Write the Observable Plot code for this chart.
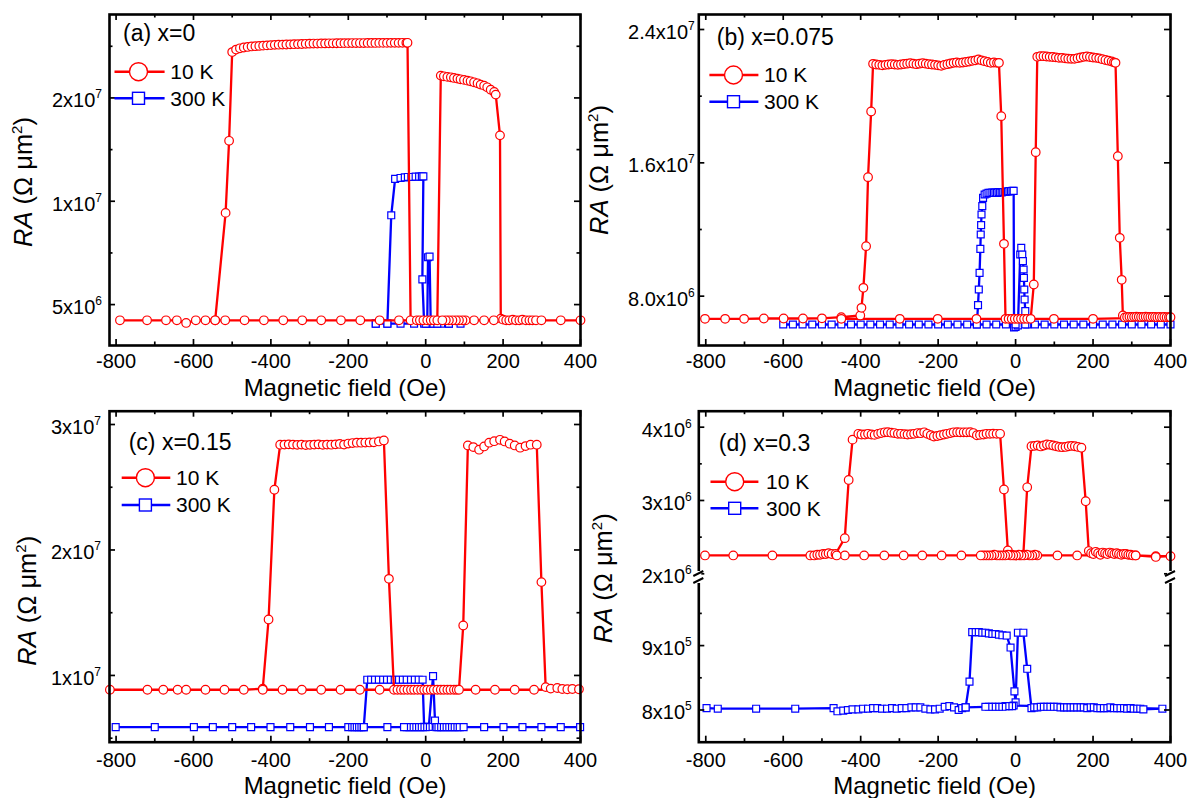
<!DOCTYPE html>
<html><head><meta charset="utf-8">
<script src="https://cdn.jsdelivr.net/npm/d3@7"></script>
<script src="https://cdn.jsdelivr.net/npm/@observablehq/plot@0.6"></script>
<style>
html,body{margin:0;padding:0;background:#fff;}
#wrap{position:relative;width:1190px;height:798px;overflow:hidden;background:#fff;}
#wrap svg{position:absolute;overflow:visible;}
</style></head><body><div id="wrap"></div>
<script>
const FONT = '"Liberation Sans", Arial, Helvetica, sans-serif';
const RED = "#ff0000", BLUE = "#0000ff";

// ---- shared x ticks (Oe) ----
const xMajorTicks = [-800, -600, -400, -200, 0, 200, 400];
const xMinorTicks = [-700, -500, -300, -100, 100, 300];
const xTitle = "Magnetic field (Oe)";
const legendLabels = ["10 K", "300 K"];

// ---- panel (a) x=0 : RA in units of 1e6 Ω·µm² ----
const fieldA10K = [-790, -720, -671, -643, -619, -594, -569, -544, -517, -508, -500,
  -490, -480, -470, -460, -450, -440, -430, -420, -410, -400, -390, -380, -370, -360, -350, -340, -330, -320, -310, -300,
  -290, -280, -270, -260, -250, -240, -230, -220, -210, -200, -190, -180, -170, -160, -150, -140, -130, -120, -110, -100,
  -90, -80, -70, -60, -50, -47,
  -39, -23, -15, -6, 4, 13, 21, 30,
  39, 47, 56, 65, 73, 82, 90, 99, 108, 116, 125, 134, 142, 151, 159, 168, 177, 181,
  192, 194,
  200, 208, 216, 225, 233, 242, 250, 259, 268, 276, 285, 299, 349, 400,
  176, 151, 125, 103, 95, 86, 78, 69, 60, 52, 43, -69, -119, -169, -219, -270, -319, -368, -418, -468, -518, -544];
const raA10K = [4.5, 4.5, 4.5, 4.5, 4.42, 4.5, 4.5, 4.5, 9.25, 15.0, 27.2,
  27.66, 27.9, 28.05, 28.15, 28.25, 28.3, 28.35, 28.4, 28.45, 28.5, 28.55, 28.58, 28.6, 28.62, 28.65, 28.68, 28.7, 28.72, 28.75, 28.78,
  28.8, 28.8, 28.82, 28.83, 28.85, 28.85, 28.86, 28.87, 28.88, 28.88, 28.9, 28.9, 28.9, 28.9, 28.92, 28.92, 28.92, 28.93, 28.93, 28.93,
  28.94, 28.94, 28.94, 28.95, 28.95, 28.95,
  4.5, 4.5, 4.5, 4.5, 4.5, 4.5, 4.5, 4.5,
  23.23, 23.12, 23.03, 22.97, 22.87, 22.77, 22.66, 22.57, 22.46, 22.36, 22.21, 22.06, 21.87, 21.72, 21.48, 21.14, 20.82, 20.45,
  15.56, 4.55,
  4.52, 4.5, 4.5, 4.52, 4.5, 4.5, 4.52, 4.5, 4.5, 4.5, 4.5, 4.5, 4.5, 4.5,
  4.5, 4.5, 4.5, 4.5, 4.5, 4.5, 4.5, 4.5, 4.5, 4.5, 4.5, 4.5, 4.5, 4.5, 4.5, 4.5, 4.5, 4.5, 4.5, 4.5, 4.5, 4.5];
const fieldA300K = [-129, -99, -89, -79, -65, -54, -46, -37, -26, -17, -10, -6, -8.6, -4, 4, 6, 10, 13, 20, 40, 60, 90, 60, 30, 0, -30, -65, -99, -129];
const raA300K = [4.4, 4.4, 9.1, 11.62, 11.69, 11.74, 11.77, 11.77, 11.8, 11.8, 11.82, 11.82, 5.92, 4.4, 4.4, 6.87, 6.9, 4.4, 4.4, 4.4, 4.4, 4.4, 4.4, 4.4, 4.4, 4.4, 4.4, 4.4, 4.4];
const yMajorA = [5, 10, 20];
const yLabelsA = ["5x10^6", "1x10^7", "2x10^7"];
const yMinorA = [7.07, 14.14, 28.28];

// ---- panel (b) x=0.075 ----
const fieldB10K = [-802, -750, -701, -650, -599, -549, -500, -450, -401, -398, -393, -386, -381, -373, -368,
  -360, -352, -344, -336, -328, -320, -312, -304, -296, -288, -280, -272, -264, -256, -248, -240, -232, -224, -216, -208,
  -200, -192, -184, -176, -168, -160, -152, -144, -136, -128, -120, -112, -104, -96, -88, -80, -72, -64, -56, -48, -43,
  -37, -30, -26, -18, -10, -2, 6, 14, 22, 30, 39, 47, 52, 56,
  64, 72, 80, 88, 96, 104, 112, 120, 128, 136, 144, 152, 160, 168, 176, 184, 192, 200, 208, 216, 224, 232, 240, 248, 254, 258,
  264, 269, 274, 277,
  282, 288, 294, 300, 306, 312, 318, 324, 330, 336, 342, 348, 354, 360, 366, 372, 378, 384, 390, 396, 400,
  200, 99, -101, -201, -299, -450];
const raB10K = [6.64, 6.64, 6.64, 6.66, 6.66, 6.66, 6.67, 6.74, 6.84, 7.3, 8.5, 11.0, 15.14, 19.08, 21.94,
  21.9, 21.88, 21.85, 21.88, 21.9, 21.92, 21.9, 21.88, 21.9, 21.93, 21.95, 21.98, 21.95, 21.92, 21.95, 21.98, 21.95, 21.92, 21.9, 21.88,
  21.85, 21.82, 21.88, 21.92, 21.96, 22.0, 22.02, 22.0, 22.02, 22.05, 22.08, 22.12, 22.15, 22.2, 22.15, 22.1, 22.05, 22.0, 22.02, 22.0, 22.0,
  18.8, 11.14, 6.64, 6.64, 6.64, 6.64, 6.64, 6.64, 6.64, 6.64, 6.64, 8.7, 16.64, 22.36,
  22.4, 22.4, 22.38, 22.36, 22.35, 22.33, 22.3, 22.3, 22.27, 22.25, 22.24, 22.24, 22.28, 22.32, 22.36, 22.38, 22.35, 22.32, 22.3, 22.27, 22.22, 22.17, 22.13, 22.08, 22.03, 22.0,
  16.4, 11.5, 8.98, 6.84,
  6.72, 6.75, 6.76, 6.75, 6.76, 6.77, 6.76, 6.75, 6.76, 6.77, 6.76, 6.75, 6.76, 6.75, 6.74, 6.75, 6.74, 6.75, 6.74, 6.74, 6.74,
  6.64, 6.64, 6.64, 6.64, 6.64, 6.64];
const fieldB300K = [-600, -575, -550, -525, -500, -475, -450, -425, -400, -375, -350, -325, -300, -275, -250, -225, -200, -175, -150, -125, -100,
  -97, -95, -93, -91, -90, -89, -88, -86, -84,
  -80, -75, -70, -65, -60, -56, -52, -48, -44, -40, -36, -32, -28, -24, -20, -16, -12, -8, -5,
  -4, 0, 6,
  12, 14.6, 17.2, 18.9, 20.7, 21.5, 22.4, 23.3, 25, 26.7, 30.2,
  50, 75, 100, 125, 150, 175, 200, 225, 250, 275, 300, 325, 350, 375, 400,
  25, 0, -25, -50, -75, -100];
const raB300K = [6.3, 6.3, 6.3, 6.3, 6.3, 6.3, 6.3, 6.3, 6.3, 6.3, 6.3, 6.3, 6.3, 6.3, 6.3, 6.3, 6.3, 6.3, 6.3, 6.3, 6.3,
  7.46, 8.4, 9.4, 10.84, 11.7, 12.26, 12.9, 13.4, 13.9,
  14.1, 14.15, 14.2, 14.2, 14.22, 14.2, 14.22, 14.2, 14.25, 14.22, 14.22, 14.25, 14.25, 14.27, 14.28, 14.3, 14.3, 14.32, 14.32,
  6.12, 6.15, 6.25,
  10.5, 10.9, 10.5, 10.1, 9.6, 9.1, 8.4, 7.8, 7.1, 6.6, 6.3,
  6.3, 6.3, 6.3, 6.3, 6.3, 6.3, 6.3, 6.3, 6.3, 6.3, 6.3, 6.3, 6.3, 6.3, 6.3,
  6.3, 6.3, 6.3, 6.3, 6.3, 6.3];
const yMajorB = [8, 16, 24];
const yLabelsB = ["8.0x10^6", "1.6x10^7", "2.4x10^7"];
const yMinorB = [12, 20];

// ---- panel (c) x=0.15 ----
const fieldC10K = [-816, -719, -678, -641, -619, -569, -520, -470, -421, -406, -391, -376,
  -365, -354, -343, -332, -321, -310, -299, -288, -277, -266, -255, -244, -233, -222, -211, -200, -189, -178, -167, -156, -145, -134, -121, -108,
  -95, -82,
  -73, -64, -56, -47, -38, -30, -21, -12, -4, 4, 13, 21, 30, 39, 47, 56, 64, 73, 80, 86,
  97, 109, 123, 138, 151, 164, 177, 192, 204, 217, 230, 244, 258, 271, 287,
  299, 310, 323, 340, 353, 366, 379, 396,
  280, 230, 179, 129, -119, -170, -220, -270, -320, -370, -421];
const raC10K = [8.86, 8.86, 8.86, 8.86, 8.86, 8.86, 8.86, 8.86, 8.94, 14.46, 24.8, 28.39,
  28.4, 28.42, 28.4, 28.38, 28.4, 28.36, 28.38, 28.4, 28.42, 28.38, 28.4, 28.39, 28.42, 28.45, 28.4, 28.48, 28.52, 28.55, 28.55, 28.56, 28.57, 28.58, 28.65, 28.73,
  17.7, 8.86,
  8.86, 8.86, 8.86, 8.86, 8.86, 8.86, 8.86, 8.86, 8.86, 8.86, 8.86, 8.86, 8.86, 8.86, 8.86, 8.86, 8.86, 8.86, 8.86, 8.86,
  13.98, 28.33, 28.2, 27.99, 28.25, 28.55, 28.67, 28.78, 28.65, 28.47, 28.33, 28.15, 28.28, 28.39, 28.39,
  17.44, 9.07, 8.95, 9.0, 8.92, 8.9, 8.92, 8.9,
  8.86, 8.86, 8.86, 8.86, 8.86, 8.86, 8.86, 8.86, 8.86, 8.86, 8.86];
const fieldC300K = [-801, -700, -599, -550, -500, -451, -401, -350, -299, -250, -200, -190, -184, -178, -172, -166, -160,
  -151, -141, -131, -121, -110, -100, -90, -80, -69, -59, -49, -38, -28, -18, -8,
  -4, 8, 19, 24, 28,
  33, 40, 47, 54, 61, 68, 75, 82, 88, 98, 151, 201, 250, 299, 349, 399,
  0, -7, -14, -21, -28, -35, -42, -49, -56, -99, -160];
const raC300K = [5.88, 5.88, 5.88, 5.88, 5.88, 5.88, 5.88, 5.88, 5.88, 5.88, 5.88, 5.88, 5.88, 5.88, 5.88, 5.88, 5.88,
  9.66, 9.66, 9.66, 9.66, 9.66, 9.66, 9.66, 9.66, 9.66, 9.66, 9.66, 9.66, 9.66, 9.66, 9.66,
  5.9, 5.9, 9.95, 6.41, 5.88,
  5.88, 5.88, 5.88, 5.88, 5.88, 5.88, 5.88, 5.88, 5.88, 5.88, 5.88, 5.88, 5.88, 5.88, 5.88, 5.88,
  5.88, 5.88, 5.88, 5.88, 5.88, 5.88, 5.88, 5.88, 5.88, 5.88, 5.88];
const yMajorC = [10, 20, 30];
const yLabelsC = ["1x10^7", "2x10^7", "3x10^7"];
const yMinorC = [5, 15, 25];

// ---- panel (d) x=0.3 (broken axis) ----
const fieldD10K = [-802, -729, -628, -530, -520, -512, -505, -497, -490, -483, -475, -465, -441, -431, -421, -406,
  -398, -389, -381, -372, -364, -355, -347, -338, -330, -321, -313, -304, -296, -287, -279, -270, -262, -253, -245, -236,
  -228, -219, -211, -202, -194, -185, -177, -168, -160, -151, -143, -134, -126, -117, -109, -100, -92, -83, -75, -66, -58, -49, -40,
  -30, -20, -10, 0, 10, 20, 30, 41,
  49, 57, 65, 73, 81, 89, 97, 105, 113, 121, 129, 137, 145, 153, 161, 170,
  181, 189, 195, 201, 207, 213, 219, 225, 231, 237, 243, 249, 255, 261, 267, 273, 279, 285, 291, 297, 303, 310, 362, 400,
  362, 310, 159, 108, 56, 50, 43, 36, 29, 22, 15, 8, 1, -6, -13, -20, -27, -34, -41, -48, -55, -62, -69, -76, -83, -90,
  -140, -191, -241, -289, -339, -391, -441, -462];
const raD10K = [2.25, 2.25, 2.25, 2.25, 2.25, 2.26, 2.26, 2.27, 2.27, 2.28, 2.27, 2.27, 2.486, 3.28, 3.83, 3.91,
  3.90, 3.90, 3.91, 3.90, 3.895, 3.91, 3.92, 3.93, 3.932, 3.925, 3.92, 3.91, 3.91, 3.905, 3.90, 3.905, 3.91, 3.92, 3.918, 3.93,
  3.91, 3.89, 3.873, 3.88, 3.89, 3.90, 3.91, 3.92, 3.93, 3.932, 3.93, 3.93, 3.93, 3.932, 3.92, 3.89, 3.895, 3.90, 3.91, 3.91, 3.912, 3.91, 3.91,
  3.15, 2.32, 2.26, 2.25, 2.25, 2.26, 3.18, 3.74,
  3.745, 3.75, 3.737, 3.75, 3.764, 3.76, 3.75, 3.74, 3.73, 3.727, 3.73, 3.74, 3.745, 3.74, 3.73, 3.72,
  2.99, 2.31, 2.28, 2.27, 2.3, 2.28, 2.26, 2.29, 2.28, 2.27, 2.29, 2.28, 2.27, 2.28, 2.27, 2.26, 2.27, 2.27, 2.26, 2.26, 2.25, 2.25, 2.24, 2.24,
  2.23, 2.25, 2.25, 2.25, 2.25, 2.26, 2.25, 2.25, 2.26, 2.25, 2.25, 2.26, 2.25, 2.25, 2.25, 2.26, 2.25, 2.25, 2.25, 2.25, 2.26, 2.25, 2.25, 2.25, 2.25, 2.25,
  2.25, 2.25, 2.25, 2.25, 2.25, 2.25, 2.25, 2.25];
const fieldD300K = [-798, -769, -670, -569, -470, -460, -445, -433, -421, -406, -394, -381, -368, -357, -345, -332, -319, -307, -294, -282,
  -269, -258, -246, -233, -220, -208, -196, -183, -171, -159, -147, -138, -129,
  -119, -112, -103, -95, -86, -78, -69, -60, -52, -43, -34, -23, -13, -3, 0, 6, 20, 30, 41,
  48, 56, 65, 73, 82, 90, 99, 108, 116, 125, 133, 142, 150, 159, 168, 176, 185, 194, 202, 211, 219, 228, 237, 245, 254, 262, 271, 280,
  288, 297, 305, 314, 322, 330, 379,
  -5, -9, -17, -26, -34, -43, -52, -60, -69, -78, -129];
const raD300K = [0.803, 0.802, 0.802, 0.802, 0.803, 0.798, 0.799, 0.8, 0.801, 0.801, 0.802, 0.802, 0.803, 0.803, 0.802, 0.802, 0.803, 0.802, 0.803, 0.803,
  0.804, 0.804, 0.804, 0.802, 0.801, 0.801, 0.802, 0.805, 0.806, 0.804, 0.8, 0.803, 0.804,
  0.844, 0.921, 0.921, 0.921, 0.92, 0.92, 0.919, 0.918, 0.918, 0.917, 0.916, 0.9156, 0.897, 0.829, 0.812, 0.92, 0.92, 0.864, 0.803,
  0.804, 0.804, 0.805, 0.805, 0.805, 0.805, 0.805, 0.805, 0.804, 0.804, 0.804, 0.804, 0.804, 0.804, 0.804, 0.804, 0.803, 0.804, 0.804, 0.803, 0.803, 0.803, 0.803, 0.804, 0.803, 0.803, 0.803, 0.803,
  0.802, 0.803, 0.802, 0.802, 0.802, 0.801, 0.802,
  0.807, 0.806, 0.806, 0.806, 0.805, 0.805, 0.805, 0.805, 0.805, 0.805, 0.804];
const yMajorD = [0.8, 0.9, 2, 3, 4];
const yLabelsD = ["8x10^5", "9x10^5", "2x10^6", "3x10^6", "4x10^6"];
const yMinorD = [0.85, 0.95, 2.5, 3.5];

// ---------------------------------------------------------------
function rows(hs, ras) { return hs.map((h, i) => ({h, ra: ras[i]})); }

function supify(svg) {
  d3.select(svg).selectAll("text").each(function () {
    const t = this.textContent;
    const k = t.indexOf("^");
    if (k < 0) return;
    const sel = d3.select(this);
    sel.text(t.slice(0, k));
    sel.append("tspan").attr("dy", -9).attr("font-size", 12).text(t.slice(k + 1));
  });
}

function build(cfg) {
  const fw = cfg.width - cfg.ml - cfg.mr;
  const fh = cfg.height - cfg.mt - cfg.mb;
  const red = rows(cfg.redH, cfg.redRA);
  const blue = rows(cfg.blueH, cfg.blueRA);
  const labelMap = new Map(cfg.yMajor.map((v, i) => [v, cfg.yLabels[i]]));
  const tickStyle = {stroke: "black", strokeWidth: 1.7};
  const svg = Plot.plot({
    width: cfg.width, height: cfg.height,
    marginLeft: cfg.ml, marginRight: cfg.mr, marginTop: cfg.mt, marginBottom: cfg.mb,
    style: {fontFamily: FONT, fontSize: "20px", color: "#000", background: "transparent", overflow: "visible"},
    x: {domain: cfg.xDomain},
    y: cfg.y,
    marks: [
      Plot.line(blue, {x: "h", y: "ra", stroke: BLUE, strokeWidth: 2.3}),
      Plot.dot(blue, {x: "h", y: "ra", symbol: "square", r: 3.9, stroke: BLUE, strokeWidth: 1.2, fill: "white"}),
      Plot.line(red, {x: "h", y: "ra", stroke: RED, strokeWidth: 2.3}),
      Plot.dot(red, {x: "h", y: "ra", symbol: "circle", r: 4.3, stroke: RED, strokeWidth: 1.2, fill: "white"}),
      // inward tick marks on all four sides
      Plot.ruleX(xMajorTicks, {x: d => d, insetTop: fh - 6, ...tickStyle}),
      Plot.ruleX(xMajorTicks, {x: d => d, insetBottom: fh - 6, ...tickStyle}),
      Plot.ruleX(xMinorTicks, {x: d => d, insetTop: fh - 3.5, ...tickStyle}),
      Plot.ruleX(xMinorTicks, {x: d => d, insetBottom: fh - 3.5, ...tickStyle}),
      Plot.ruleY(cfg.yMajor, {y: d => d, insetRight: fw - 6, ...tickStyle}),
      Plot.ruleY(cfg.yMajor, {y: d => d, insetLeft: fw - 6, ...tickStyle}),
      Plot.ruleY(cfg.yMinor, {y: d => d, insetRight: fw - 3.5, ...tickStyle}),
      Plot.ruleY(cfg.yMinor, {y: d => d, insetLeft: fw - 3.5, ...tickStyle}),
      Plot.frame({stroke: "black", strokeWidth: 2.6}),
      Plot.axisX({anchor: "bottom", ticks: xMajorTicks, tickSize: 0, tickPadding: cfg.xPad, tickFormat: d => String(d), label: null}),
      Plot.axisY({anchor: "left", ticks: cfg.yMajor, tickSize: 0, tickPadding: cfg.yPad, tickFormat: d => labelMap.get(d), dy: 3, label: null}),
      Plot.text([xTitle], {text: d => d, frameAnchor: "bottom", dy: cfg.xtDy, lineAnchor: "bottom", fontSize: 24}),
      Plot.text([cfg.panelLabel], {text: d => d, frameAnchor: "top-left", dx: cfg.plDx, dy: cfg.plDy, textAnchor: "start", lineAnchor: "middle", fontSize: 23})
    ]
  });
  svg.style.left = cfg.left + "px";
  svg.style.top = cfg.top + "px";
  supify(svg);
  const g = d3.select(svg).append("g").attr("font-family", FONT);
  // y-axis title
  const t = g.append("text")
    .attr("transform", `translate(${cfg.ytX},${cfg.ytY}) rotate(-90)`)
    .attr("text-anchor", "middle").attr("font-size", 25.5).attr("fill", "black");
  t.append("tspan").attr("font-style", "italic").text("RA");
  t.append("tspan").text(" (\u03A9 \u03BCm");
  t.append("tspan").attr("dy", -10).attr("font-size", 15).text("2");
  t.append("tspan").attr("dy", 10).text(")");
  // legend
  const L = cfg.legend;
  g.append("line").attr("x1", L.x1).attr("x2", L.x2).attr("y1", L.y1).attr("y2", L.y1).attr("stroke", RED).attr("stroke-width", 2.5);
  g.append("circle").attr("cx", L.cx).attr("cy", L.y1).attr("r", 9).attr("fill", "white").attr("stroke", RED).attr("stroke-width", 1.4);
  g.append("line").attr("x1", L.x1).attr("x2", L.x2).attr("y1", L.y2).attr("y2", L.y2).attr("stroke", BLUE).attr("stroke-width", 2.5);
  g.append("rect").attr("x", L.cx - 6).attr("y", L.y2 - 6).attr("width", 12).attr("height", 12).attr("fill", "white").attr("stroke", BLUE).attr("stroke-width", 1.4);
  g.append("text").attr("x", L.tx).attr("y", L.y1).attr("dy", "0.35em").attr("text-anchor", "start").attr("font-size", 21).attr("fill", "black").text(legendLabels[0]);
  g.append("text").attr("x", L.tx).attr("y", L.y2).attr("dy", "0.35em").attr("text-anchor", "start").attr("font-size", 21).attr("fill", "black").text(legendLabels[1]);
  // axis break
  if (cfg.brk) {
    for (const xb of [cfg.ml, cfg.width - cfg.mr]) {
      g.append("rect").attr("x", xb - 3).attr("y", cfg.brk[0]).attr("width", 6).attr("height", cfg.brk[1] - cfg.brk[0]).attr("fill", "white");
      g.append("line").attr("x1", xb - 5).attr("x2", xb + 5).attr("y1", cfg.brk[0] + 5).attr("y2", cfg.brk[0]).attr("stroke", "black").attr("stroke-width", 2);
      g.append("line").attr("x1", xb - 5).attr("x2", xb + 5).attr("y1", cfg.brk[1]).attr("y2", cfg.brk[1] - 5).attr("stroke", "black").attr("stroke-width", 2);
    }
  }
  document.getElementById("wrap").appendChild(svg);
}

build({left: 0, top: 0, width: 595, height: 399, ml: 109, mr: 15, mt: 14, mb: 54,
  xDomain: [-817, 400], y: {type: "log", domain: [3.8, 35]},
  redH: fieldA10K, redRA: raA10K, blueH: fieldA300K, blueRA: raA300K,
  yMajor: yMajorA, yLabels: yLabelsA, yMinor: yMinorA,
  xPad: 8, yPad: 7.5, xtDy: 50, panelLabel: "(a) x=0", plDx: 13.5, plDy: 19.3,
  ytX: 31.5, ytY: 182,
  legend: {x1: 114.5, x2: 164.6, cx: 138.5, tx: 170.3, y1: 71.7, y2: 98.3}});

build({left: 580, top: 0, width: 610, height: 399, ml: 118.3, mr: 20, mt: 14, mb: 54,
  xDomain: [-818, 400], y: {type: "linear", domain: [5.04, 24.9]},
  redH: fieldB10K, redRA: raB10K, blueH: fieldB300K, blueRA: raB300K,
  yMajor: yMajorB, yLabels: yLabelsB, yMinor: yMinorB,
  xPad: 8, yPad: 4, xtDy: 50, panelLabel: "(b) x=0.075", plDx: 18, plDy: 22.7,
  ytX: 28, ytY: 170,
  legend: {x1: 129.4, x2: 178.4, cx: 153.5, tx: 184.1, y1: 75, y2: 101.7}});

build({left: 0, top: 399, width: 595, height: 399, ml: 109, mr: 15, mt: 11.7, mb: 56.3,
  xDomain: [-817, 400], y: {type: "linear", domain: [4.68, 31.06]},
  redH: fieldC10K, redRA: raC10K, blueH: fieldC300K, blueRA: raC300K,
  yMajor: yMajorC, yLabels: yLabelsC, yMinor: yMinorC,
  xPad: 11, yPad: 8.5, xtDy: 51.6, panelLabel: "(c) x=0.15", plDx: 19.2, plDy: 31,
  ytX: 36, ytY: 201.8,
  legend: {x1: 121.7, x2: 170.3, cx: 145.4, tx: 176, y1: 78.7, y2: 106}});

build({left: 580, top: 399, width: 610, height: 399, ml: 118.3, mr: 20, mt: 11.7, mb: 56.3,
  xDomain: [-818, 400], y: {type: "linear", domain: [0.75, 1.0, 2.0, 4.218], range: [342.7, 181.7, 174.3, 11.7]},
  redH: fieldD10K, redRA: raD10K, blueH: fieldD300K, blueRA: raD300K,
  yMajor: yMajorD, yLabels: yLabelsD, yMinor: yMinorD,
  xPad: 11, yPad: 7, xtDy: 51.6, panelLabel: "(d) x=0.3", plDx: 20, plDy: 32.6,
  ytX: 31.7, ytY: 179.3, brk: [172, 184],
  legend: {x1: 130.5, x2: 178.4, cx: 154.7, tx: 186, y1: 82.7, y2: 109.3}});
</script></body></html>
